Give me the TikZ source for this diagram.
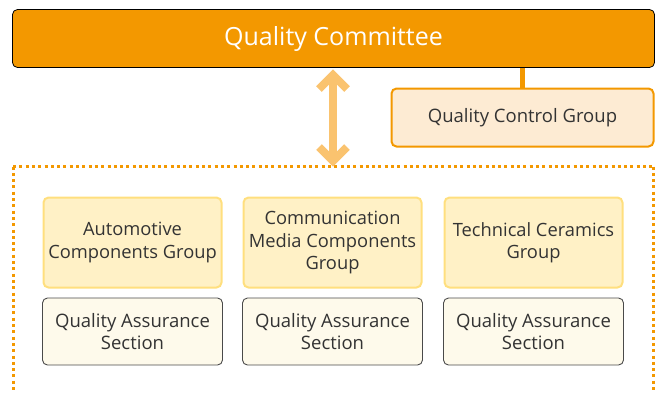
\documentclass[tikz,border=0pt]{standalone}
\usepackage{fontspec}
\setmainfont{Open Sans}
\definecolor{qcorange}{HTML}{F39800}
\definecolor{qcpeach}{HTML}{FDEBD3}
\definecolor{grpfill}{HTML}{FFF1C6}
\definecolor{grpline}{HTML}{FFDF7E}
\definecolor{secfill}{HTML}{FEFAEB}
\definecolor{secline}{HTML}{4A4A4A}
\definecolor{arrowc}{HTML}{FAC36F}
\definecolor{txt}{HTML}{333333}
\begin{document}
\begin{tikzpicture}[x=1pt,y=-1pt,
  box/.style={rounded corners=5pt, align=center, inner sep=0pt, text=txt},
  headbox/.style={box, fill=qcorange, draw=black, line width=0.8pt,
    minimum width=642pt, minimum height=58pt, text=white,
    font=\fontsize{25}{29}\selectfont},
  ctrlbox/.style={box, fill=qcpeach, draw=qcorange, line width=2pt,
    minimum width=262pt, minimum height=58pt,
    font=\fontsize{18.5}{22}\selectfont},
  grpbox/.style={box, fill=grpfill, draw=grpline, line width=2pt,
    minimum width=178pt, minimum height=90pt,
    font=\fontsize{18.3}{22.5}\selectfont},
  secbox/.style={box, fill=secfill, draw=secline, line width=0.9pt,
    minimum width=180pt, minimum height=67pt,
    font=\fontsize{18.5}{22}\selectfont},
  dotframe/.style={draw=qcorange, line width=3pt, dash pattern=on 3pt off 3.3pt},
  bigarrow/.style={draw=arrowc, line width=8pt, miter limit=4},
  link/.style={draw=qcorange, line width=4.5pt}]
\path[use as bounding box] (0,0) rectangle (660,392);
\clip (0,0) rectangle (660,392);

% dotted boundary of the business groups
\draw[dotframe] (13,166.5) -- (653.5,166.5);
\draw[dotframe] (13,166.5) -- (13,400);
\draw[dotframe] (653.5,166.5) -- (653.5,400);

% committee and its control group
\node[headbox] (committee) at (333.5,38.5) {Quality Committee};
\node[ctrlbox] (qcg) at (522.5,117.5) {Quality Control Group};
\draw[link] (committee.south -| qcg) -- (qcg.north);

% groups and their sections
\node[grpbox] (auto) at (132.5,242.5) {Automotive\\Components Group};
\node[grpbox] (comm) at (332.5,242.5) {Communication\\Media Components\\Group};
\node[grpbox] (cera) at (533.5,242.5) {Technical Ceramics\\Group};
\node[secbox] (autoqa) at (132.5,331.5) {Quality Assurance\\Section};
\node[secbox] (commqa) at (332.5,331.5) {Quality Assurance\\Section};
\node[secbox] (ceraqa) at (533.5,331.5) {Quality Assurance\\Section};

% two-way arrow between committee and groups
\coordinate (atop) at (333,75);
\coordinate (abot) at (333,161);
\draw[bigarrow] (atop) -- (abot);
\draw[bigarrow] ([xshift=-14pt,yshift=-14pt]atop) -- (atop) -- ([xshift=14pt,yshift=-14pt]atop);
\draw[bigarrow] ([xshift=-14pt,yshift=14pt]abot) -- (abot) -- ([xshift=14pt,yshift=14pt]abot);
\end{tikzpicture}
\end{document}
